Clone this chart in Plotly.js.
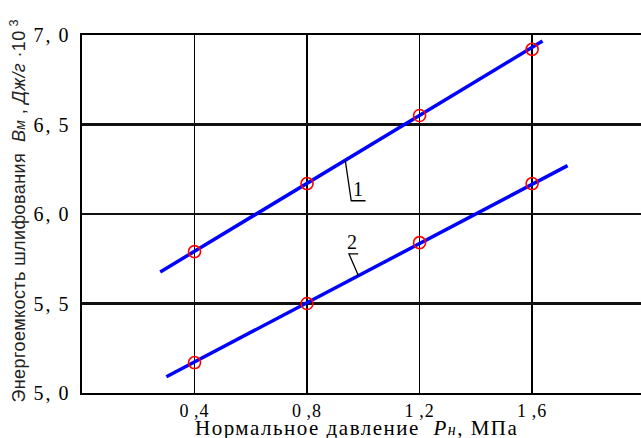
<!DOCTYPE html>
<html>
<head>
<meta charset="utf-8">
<script src="https://cdn.plot.ly/plotly-3.0.1.min.js"></script>
<style>
  html, body { margin: 0; padding: 0; background: #fff; }
  #chart { width: 641px; height: 438px; }
  /* the original print uses widely spaced lettering */
  #chart .ytick text { letter-spacing: 2px; }
  #chart .xtick text { letter-spacing: 1px; }
  #chart g.annotation[data-index="2"] text { letter-spacing: 1.5px; }
  #chart g.annotation[data-index="3"] text { letter-spacing: 0.4px; }
</style>
</head>
<body>
<div id="chart"></div>
<script>
// measured points (normal pressure, MPa -> grinding energy, J/g x1e3)
const pressure = [0.4, 0.8, 1.2, 1.6];
const energy1 = [5.79, 6.17, 6.55, 6.92];
const energy2 = [5.17, 5.50, 5.84, 6.17];

// fitted lines, read at their drawn ends
const fit1X = [0.278, 1.637];
const fit1Y = [5.676, 6.966];
const fit2X = [0.300, 1.726];
const fit2Y = [5.091, 6.270];

const xTicks = [0.4, 0.8, 1.2, 1.6];
const xTickText = ["0\u2009,4", "0\u2009,8", "1\u2009,2", "1\u2009,6"];
const yTicks = [5.0, 5.5, 6.0, 6.5, 7.0];
const yTickText = ["5,\u20090", "5,\u20095", "6,\u20090", "6,\u20095", "7,\u20090"];

const xTitle = "Нормальное давление  <i>Р<span style=\"font-size:16px\">н</span></i>, МПа";
const yTitle = "Энергоемкость шлифования  <i>В<span style=\"font-size:14px\">м</span></i> , <i>Дж/г</i> ·10<sup> 3</sup>";

// curve labels with their leader lines
const curveLabels = [
  { text: "1", x: 0.980, y: 6.14, path: [[0.936, 6.298], [0.957, 6.074], [1.008, 6.074]] },
  { text: "2", x: 0.961, y: 5.845, path: [[0.983, 5.654], [0.949, 5.777], [0.982, 5.777]] },
];

const serif = "Liberation Serif, Times New Roman, serif";
const sans = "Liberation Sans, Arial, sans-serif";

function fitTrace(x, y) {
  return { x, y, type: "scatter", mode: "lines", hoverinfo: "skip",
    line: { color: "#0000ff", width: 3.5 } };
}
function pointTrace(y) {
  return { x: pressure, y, type: "scatter", mode: "markers",
    marker: { symbol: "circle-open", size: 12, color: "#ff0000", line: { width: 1.6, color: "#ff0000" } } };
}

const traces = [
  fitTrace(fit1X, fit1Y),
  fitTrace(fit2X, fit2Y),
  pointTrace(energy1),
  pointTrace(energy2),
];

const shapes = curveLabels.map((c) => ({
  type: "path", xref: "x", yref: "y",
  path: "M" + c.path.map((p) => p[0] + "," + p[1]).join(" L"),
  line: { color: "#000", width: 1.3 },
}));

const annotations = curveLabels.map((c) => ({
  x: c.x, y: c.y, xref: "x", yref: "y", text: c.text, showarrow: false,
  font: { family: serif, size: 20, color: "#000" },
}));

// axis titles placed as annotations so they sit where the print has them
annotations.push({
  x: 0.492, y: -0.098, xref: "paper", yref: "paper", xanchor: "center", yanchor: "middle",
  text: xTitle, showarrow: false,
  font: { family: serif, size: 21, color: "#000" },
});
annotations.push({
  x: -0.1145, y: 0.51, xref: "paper", yref: "paper", xanchor: "center", yanchor: "middle",
  text: yTitle, showarrow: false, textangle: -90,
  font: { family: sans, size: 18, color: "#222" },
});

const layout = {
  width: 641, height: 438,
  margin: { l: 82, r: 0, t: 35, b: 45 },
  paper_bgcolor: "#fff", plot_bgcolor: "#fff",
  showlegend: false,
  xaxis: {
    range: [0, 1.987],
    tickvals: xTicks, ticktext: xTickText, ticks: "",
    tickfont: { family: serif, size: 18, color: "#000" },
    showgrid: true, gridcolor: "#000", gridwidth: 1.4,
    showline: true, linecolor: "#000", linewidth: 2, mirror: true,
    zeroline: false,
  },
  yaxis: {
    range: [5.0, 7.0],
    tickvals: yTicks, ticktext: yTickText, ticks: "",
    tickfont: { family: serif, size: 20, color: "#000" },
    ticklabelstandoff: 6,
    showgrid: true, gridcolor: "#111", gridwidth: 2.2,
    showline: true, linecolor: "#000", linewidth: 1.6,
    zeroline: false,
  },
  shapes,
  annotations,
};

Plotly.newPlot("chart", traces, layout, { displayModeBar: false, staticPlot: true });
</script>
</body>
</html>
